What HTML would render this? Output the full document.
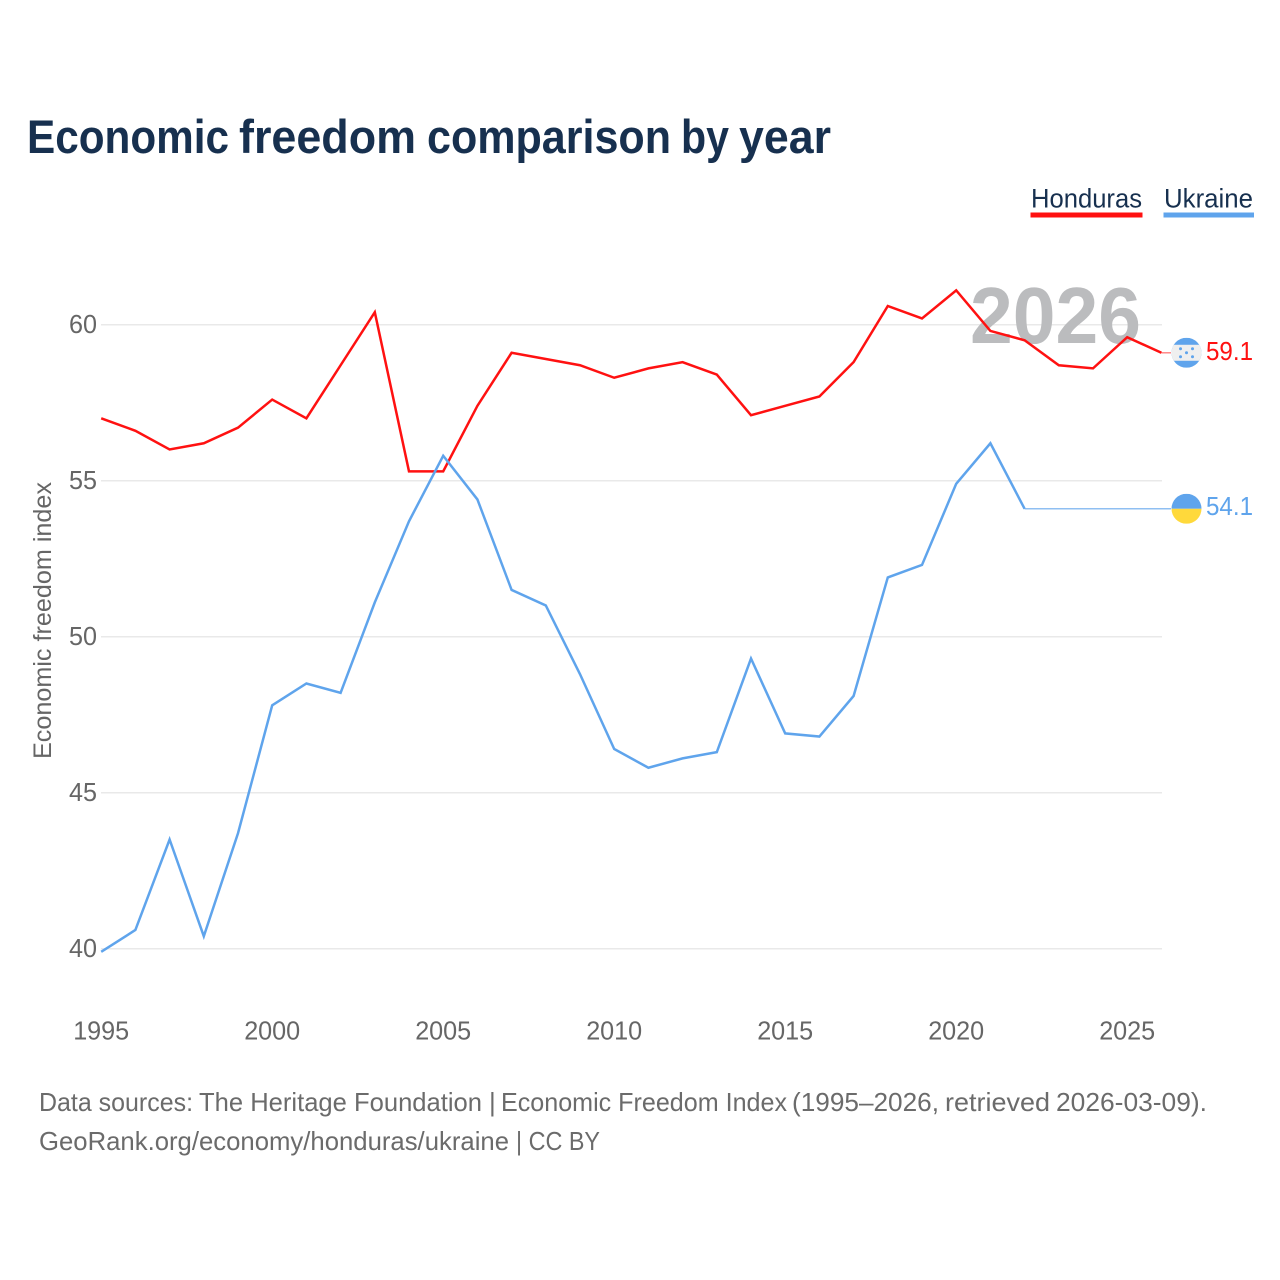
<!DOCTYPE html>
<html lang="en">
<head>
<meta charset="utf-8">
<title>Economic freedom comparison by year</title>
<style>
html,body{margin:0;padding:0;background:#fff;}
svg{display:block;}
text{font-family:"Liberation Sans",sans-serif;}
</style>
</head>
<body>
<svg id="chart" xmlns="http://www.w3.org/2000/svg" width="1280" height="1280" viewBox="0 0 1280 1280">
  <rect x="0" y="0" width="1280" height="1280" fill="#ffffff"/>
  <text y="153" font-size="47" font-weight="700" fill="#17304f" lengthAdjust="spacingAndGlyphs"><tspan x="27" textLength="202" lengthAdjust="spacingAndGlyphs">Economic</tspan> <tspan x="239" textLength="177" lengthAdjust="spacingAndGlyphs">freedom</tspan> <tspan x="427" textLength="244" lengthAdjust="spacingAndGlyphs">comparison</tspan> <tspan x="681" textLength="48" lengthAdjust="spacingAndGlyphs">by</tspan> <tspan x="739" textLength="92" lengthAdjust="spacingAndGlyphs">year</tspan></text>

  <g>
    <text x="1031" y="207.5" font-size="27" fill="#17304f" textLength="111" lengthAdjust="spacingAndGlyphs">Honduras</text>
    <rect x="1030.5" y="212.5" width="112" height="5" fill="#ff1111"/>
  </g>
  <g>
    <text x="1164" y="207.5" font-size="27" fill="#17304f" textLength="89" lengthAdjust="spacingAndGlyphs">Ukraine</text>
    <rect x="1163.5" y="212.5" width="90.5" height="5" fill="#5fa4ec"/>
  </g>

  <text transform="translate(51,759) rotate(-90)" x="0" y="0" font-size="25" fill="#666666" textLength="277" lengthAdjust="spacingAndGlyphs">Economic freedom index</text>

  <g id="grid"></g>
  <g id="y-ticks"></g>
  <g id="x-ticks"></g>

  <text x="970" y="343" font-size="80" font-weight="700" fill="#bbbcbe" textLength="171" lengthAdjust="spacingAndGlyphs">2026</text>

  <g id="series"></g>

  <defs>
    <clipPath id="clip-hn"><circle id="clip-hn-circle" cx="1186.5" cy="353" r="15"/></clipPath>
    <clipPath id="clip-ua"><circle id="clip-ua-circle" cx="1186.5" cy="509" r="15"/></clipPath>
  </defs>
  <g id="flag-honduras" clip-path="url(#clip-hn)"></g>
  <g id="flag-ukraine" clip-path="url(#clip-ua)"></g>
  <g id="end-labels"></g>

  <text y="1111" font-size="26" fill="#6b6b6b"><tspan x="39" textLength="154" lengthAdjust="spacingAndGlyphs">Data sources:</tspan> <tspan x="199" textLength="283" lengthAdjust="spacingAndGlyphs">The Heritage Foundation</tspan> <tspan x="489">|</tspan> <tspan x="501" textLength="286" lengthAdjust="spacingAndGlyphs">Economic Freedom Index</tspan> <tspan x="792" textLength="147" lengthAdjust="spacingAndGlyphs">(1995–2026,</tspan> <tspan x="945" textLength="105" lengthAdjust="spacingAndGlyphs">retrieved</tspan> <tspan x="1056" textLength="151" lengthAdjust="spacingAndGlyphs">2026-03-09).</tspan></text>
  <text y="1150" font-size="26" fill="#6b6b6b"><tspan x="39" textLength="470" lengthAdjust="spacingAndGlyphs">GeoRank.org/economy/honduras/ukraine</tspan> <tspan x="516" textLength="84" lengthAdjust="spacingAndGlyphs">| CC BY</tspan></text>
</svg>

<script>
const years = [1995,1996,1997,1998,1999,2000,2001,2002,2003,2004,2005,2006,2007,2008,2009,2010,2011,2012,2013,2014,2015,2016,2017,2018,2019,2020,2021,2022,2023,2024,2025,2026];
const hondurasValues = [57.0,56.6,56.0,56.2,56.7,57.6,57.0,58.7,60.4,55.3,55.3,57.4,59.1,58.9,58.7,58.3,58.6,58.8,58.4,57.1,57.4,57.7,58.8,60.6,60.2,61.1,59.8,59.5,58.7,58.6,59.6,59.1];
const ukraineValues = [39.9,40.6,43.5,40.4,43.7,47.8,48.5,48.2,51.1,53.7,55.8,54.4,51.5,51.0,48.8,46.4,45.8,46.1,46.3,49.3,46.9,46.8,48.1,51.9,52.3,54.9,56.2,54.1];
const yTickValues = [40,45,50,55,60];
const xTickValues = [1995,2000,2005,2010,2015,2020,2025];

const NS = 'http://www.w3.org/2000/svg';
const xScale = function (year) { return 101.2 + (year - 1995) * 34.2; };
const yScale = function (v) { return 948.7 - (v - 40) * 31.2; };
const RED = '#ff1111';
const BLUE = '#5fa4ec';
const TICK = '#666666';

function make(parent, tag, attrs, text) {
  const el = document.createElementNS(NS, tag);
  for (const k in attrs) el.setAttribute(k, attrs[k]);
  if (text !== undefined) el.textContent = text;
  parent.appendChild(el);
  return el;
}

const gridG = document.getElementById('grid');
const yG = document.getElementById('y-ticks');
const xG = document.getElementById('x-ticks');
const seriesG = document.getElementById('series');
const labelsG = document.getElementById('end-labels');

yTickValues.forEach(function (v) {
  const line = make(gridG, 'line', {x1: 101, x2: 1162, y1: yScale(v), y2: yScale(v), stroke: '#e9e9e9', 'stroke-width': 1.5});
  
  
  const t = make(yG, 'text', {x: 97, y: yScale(v) + 8.2, 'text-anchor': 'end', 'font-size': 26, fill: TICK, textLength: 28, lengthAdjust: 'spacingAndGlyphs'}, String(v));
  
  
});

xTickValues.forEach(function (year) {
  const t = make(xG, 'text', {x: xScale(year), y: 1039.5, 'text-anchor': 'middle', 'font-size': 26, fill: TICK, textLength: 56, lengthAdjust: 'spacingAndGlyphs'}, String(year));
  
  
});

function pathFor(values) {
  return values.map(function (v, i) {
    return (i ? 'L' : 'M') + xScale(years[i]).toFixed(2) + ' ' + yScale(v).toFixed(2);
  }).join(' ');
}

const hondurasLine = make(seriesG, 'path', {d: pathFor(hondurasValues), fill: 'none', stroke: RED, 'stroke-width': 2.5, 'stroke-linejoin': 'miter'});



const ukraineLine = make(seriesG, 'path', {d: pathFor(ukraineValues), fill: 'none', stroke: BLUE, 'stroke-width': 2.5, 'stroke-linejoin': 'miter'});



const hnLast = hondurasValues[hondurasValues.length - 1];
const uaLast = ukraineValues[ukraineValues.length - 1];
const hnY = yScale(hnLast);
const uaY = yScale(uaLast);

const hnConnector = make(seriesG, 'line', {x1: xScale(years[hondurasValues.length - 1]), x2: 1171, y1: hnY, y2: hnY, stroke: RED, 'stroke-width': 1.5, 'stroke-opacity': 0.5});



const uaConnector = make(seriesG, 'line', {x1: xScale(years[ukraineValues.length - 1]), x2: 1171, y1: uaY, y2: uaY, stroke: BLUE, 'stroke-width': 1.5, 'stroke-opacity': 0.7});



// Flags follow the last value of each series
document.getElementById('clip-hn-circle').setAttribute('cy', hnY);
document.getElementById('clip-ua-circle').setAttribute('cy', uaY);

const hnFlag = document.getElementById('flag-honduras');
make(hnFlag, 'rect', {x: 1171, y: hnY - 15, width: 31, height: 30, fill: BLUE});
make(hnFlag, 'rect', {x: 1171, y: hnY - 8, width: 31, height: 16, fill: '#efefef'});
[[-6, -4], [6, -4], [0, 0], [-6, 4], [6, 4]].forEach(function (p) {
  make(hnFlag, 'circle', {cx: 1186.5 + p[0], cy: hnY + p[1], r: 1.5, fill: BLUE});
});

const uaFlag = document.getElementById('flag-ukraine');
make(uaFlag, 'rect', {x: 1171, y: uaY - 15, width: 31, height: 15, fill: BLUE});
make(uaFlag, 'rect', {x: 1171, y: uaY, width: 31, height: 15, fill: '#ffd93b'});

const hnLabel = make(labelsG, 'text', {x: 1206, y: hnY + 7.2, 'font-size': 26, fill: RED, textLength: 47, lengthAdjust: 'spacingAndGlyphs'}, hnLast.toFixed(1));



const uaLabel = make(labelsG, 'text', {x: 1206, y: uaY + 6.2, 'font-size': 26, fill: BLUE, textLength: 47, lengthAdjust: 'spacingAndGlyphs'}, uaLast.toFixed(1));


</script>
</body>
</html>
